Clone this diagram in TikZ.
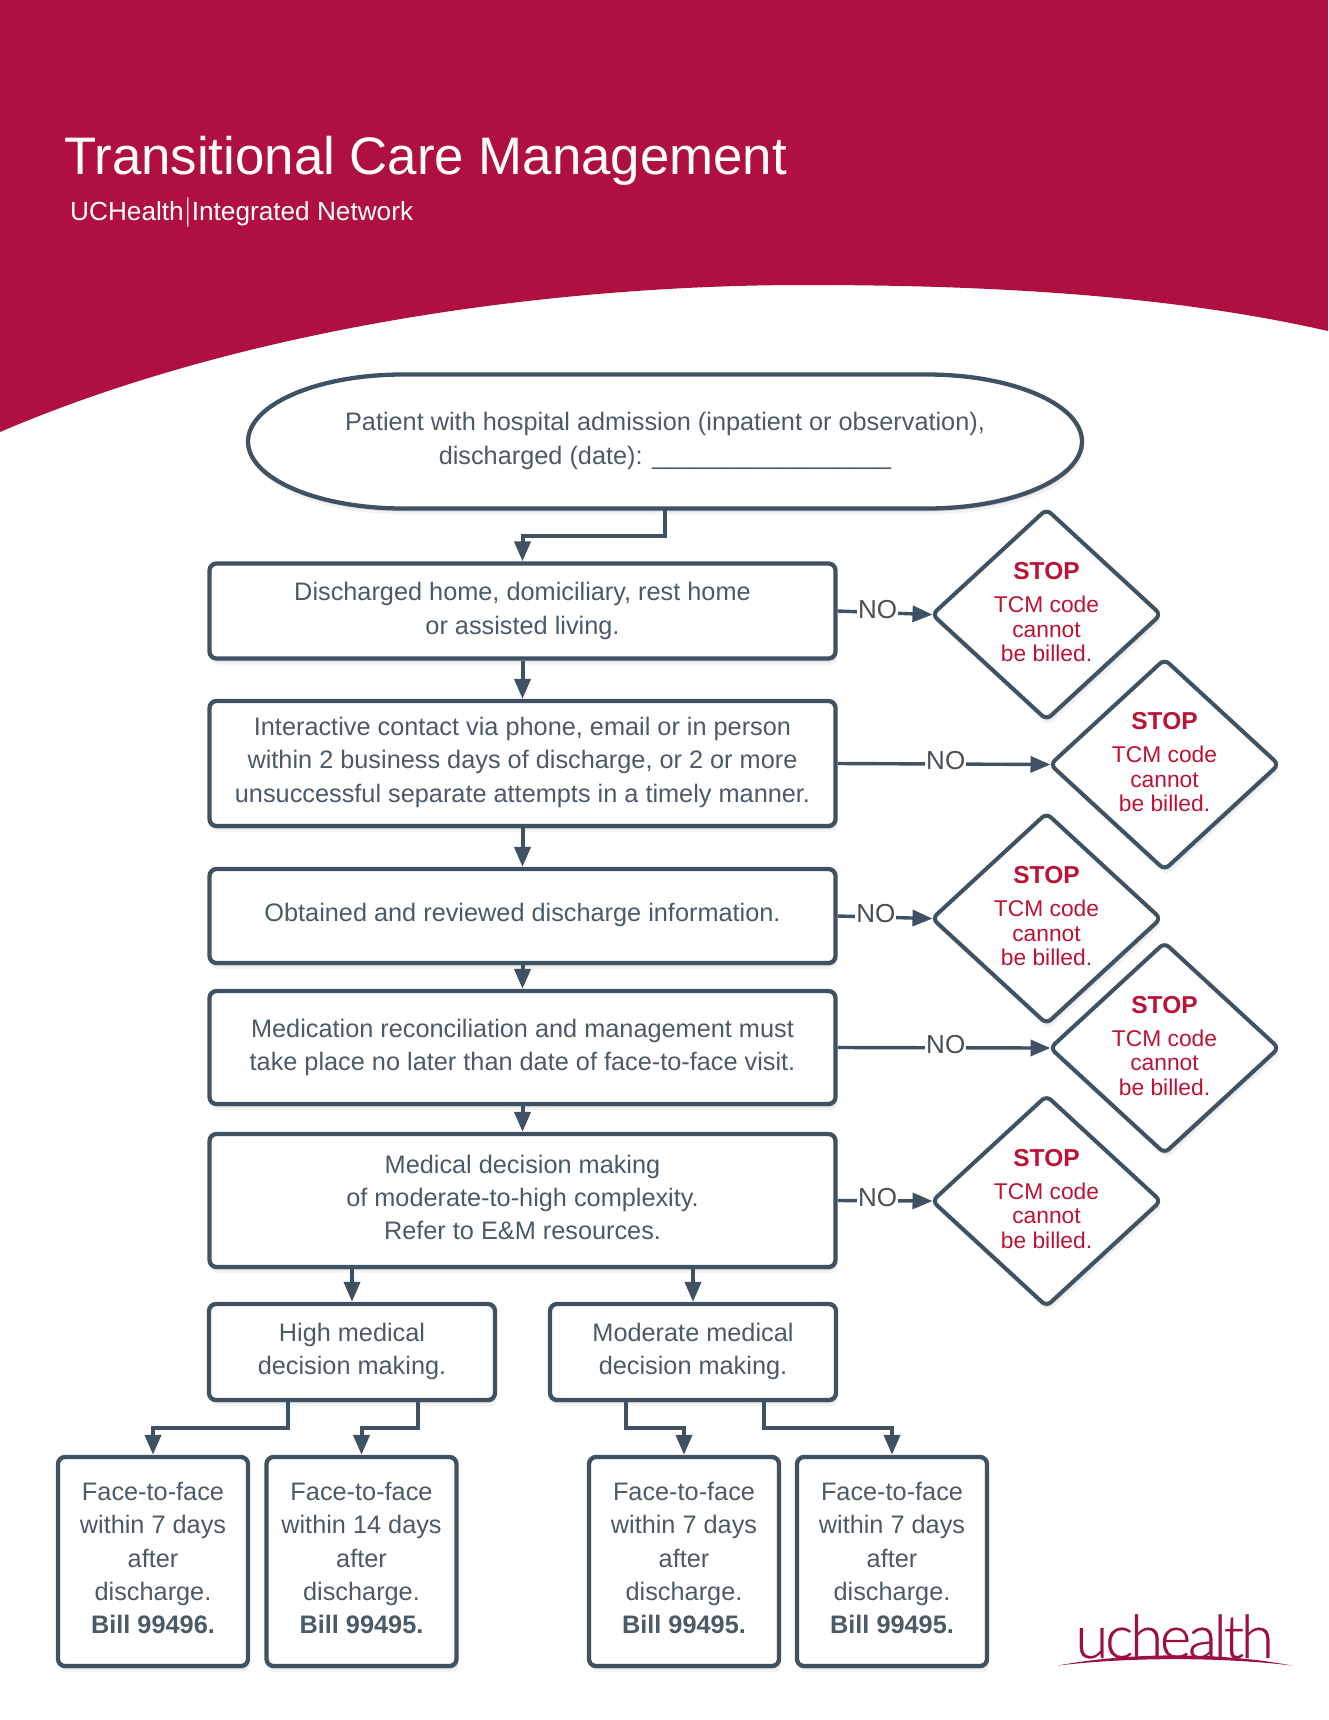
\documentclass[tikz,border=0pt]{standalone}
\usepackage{fontspec}
\usepackage{graphicx}
\setmainfont{Liberation Sans}
\newfontfamily\logofont[LetterSpace=-5.5,FakeBold=0.4]{Lato Light}
\usetikzlibrary{arrows.meta,shadows,shapes.geometric}
\definecolor{bandred}{HTML}{B01040}
\definecolor{logored}{HTML}{9B1040}
\definecolor{stopred}{HTML}{BC1236}
\definecolor{linegray}{HTML}{3F5263}
\definecolor{textgray}{HTML}{4B5A67}
\definecolor{nogray}{HTML}{4A4F54}
\tikzset{
	softshadow/.style={drop shadow={shadow xshift=1pt,shadow yshift=-3pt,opacity=.10,fill=black},drop shadow={shadow xshift=2pt,shadow yshift=-6pt,opacity=.05,fill=black}},
	flowbox/.style={draw=linegray,line width=4.3pt,fill=white,rounded corners=7pt,inner sep=0pt,align=center,text=textgray,font=\fontsize{25.3}{33.3}\selectfont,softshadow},
	stopdiamond/.style={diamond,aspect=1.09,draw=linegray,line width=4pt,fill=white,rounded corners=6pt,inner sep=0pt,minimum width=230pt,minimum height=212pt,text depth=4.4pt,align=center,text=stopred,font=\fontsize{22.8}{24.7}\selectfont,softshadow},
	nolabel/.style={fill=white,inner sep=1pt,yshift=3pt,text=nogray,font=\fontsize{26}{28}\selectfont},
	flowline/.style={draw=linegray,line width=4pt,-{Triangle[length=20pt,width=16pt]}},
	noline/.style={draw=linegray,line width=3.4pt,-{Triangle[length=20pt,width=16pt]},shorten >=-3pt},
}
\newcommand{\stoptext}{{\bfseries\fontsize{24.5}{24.7}\selectfont STOP}\\[8pt]TCM code\\cannot\\be billed.}

\begin{document}
\begin{tikzpicture}[x=1pt,y=-1pt]
	\useasboundingbox (0,0) rectangle (1328,1720);
	%%%%% HEADER %%%%%
	\fill[bandred] (0,0) -- (1328,0) -- (1328,331) .. controls (1170,295) and (990,285) .. (805,285) .. controls (560,285) and (250,325) .. (0,432) -- cycle;
	\node (title) [anchor=base west,inner sep=0pt,text=white,font=\fontsize{52.8}{60}\selectfont] at (64,175) {Transitional Care Management};
	\node (subtitle) [anchor=base west,inner sep=0pt,text=white,font=\fontsize{26.2}{30}\selectfont] at (70,221) {UCHealth\kern2pt\scalebox{.5}[1]{\fontsize{31}{31}\selectfont|}\kern2pt Integrated Network};
	
	%%%%% MAIN COLUMN %%%%%
	\draw[draw=linegray,line width=4.3pt,fill=white,softshadow] (403,374.5) -- (927,374.5) arc (-90:90:155 and 67) -- (403,508.5) arc (90:270:155 and 67) -- cycle;
	\node (admit) [minimum width=834pt,minimum height=136pt,inner sep=0pt,align=center,text=textgray,font=\fontsize{25.3}{33.3}\selectfont] at (665,441) {Patient with hospital admission (inpatient or observation),\\discharged (date): \_\_\_\_\_\_\_\_\_\_\_\_\_\_\_\_\_};
	
	\node (home) [flowbox,minimum width=626pt,minimum height=95pt] at (522.5,611) {Discharged home, domiciliary, rest home\\or assisted living.};
	\node (contact) [flowbox,minimum width=626pt,minimum height=125pt,text depth=7.4pt] at (522.5,763.5) {Interactive contact via phone, email or in person\\within 2 business days of discharge, or 2 or more\\unsuccessful separate attempts in a timely manner.};
	\node (review) [flowbox,minimum width=626pt,minimum height=94pt,text depth=7.2pt] at (522.5,916) {Obtained and reviewed discharge information.};
	\node (meds) [flowbox,minimum width=626pt,minimum height=113pt] at (522.5,1047.5) {Medication reconciliation and management must\\take place no later than date of face-to-face visit.};
	\node (mdm) [flowbox,minimum width=626pt,minimum height=133pt,text depth=6.6pt] at (522.5,1200.5) {Medical decision making\\of moderate-to-high complexity.\\Refer to E\&M resources.};
	
	%%%%% STOP DIAMONDS %%%%%
	\node (stopa) [stopdiamond] at (1046.5,614.5) {\stoptext};
	\node (stopb) [stopdiamond] at (1164.5,764.5) {\stoptext};
	\node (stopc) [stopdiamond] at (1046.5,918.5) {\stoptext};
	\node (stopd) [stopdiamond] at (1164.5,1048) {\stoptext};
	\node (stope) [stopdiamond] at (1046.5,1201) {\stoptext};
	
	%%%%% LOWER BOXES %%%%%
	\node (high) [flowbox,minimum width=286pt,minimum height=96pt,text depth=7pt] at (352,1352) {High medical\\decision making.};
	\node (moderate) [flowbox,minimum width=286pt,minimum height=96pt,text depth=7pt] at (693,1352) {Moderate medical\\decision making.};
	\node (facea) [flowbox,minimum width=190pt,minimum height=209pt,text depth=7pt] at (153,1561.5) {Face-to-face\\within 7 days\\after\\discharge.\\\textbf{Bill 99496.}};
	\node (faceb) [flowbox,minimum width=190pt,minimum height=209pt,text depth=7pt] at (361.5,1561.5) {Face-to-face\\within 14 days\\after\\discharge.\\\textbf{Bill 99495.}};
	\node (facec) [flowbox,minimum width=190pt,minimum height=209pt,text depth=7pt] at (684,1561.5) {Face-to-face\\within 7 days\\after\\discharge.\\\textbf{Bill 99495.}};
	\node (faced) [flowbox,minimum width=190pt,minimum height=209pt,text depth=7pt] at (892,1561.5) {Face-to-face\\within 7 days\\after\\discharge.\\\textbf{Bill 99495.}};
	
	%%%%% CONNECTORS %%%%%
	\coordinate (admitbend) at (522.5,536);
	\coordinate (mdmhigh) at (352,1267);
	\coordinate (mdmmod) at (693,1267);
	\coordinate (higha) at (288,1400);
	\coordinate (highb) at (418,1400);
	\coordinate (moda) at (626,1400);
	\coordinate (modb) at (764,1400);
	\coordinate (bendhigha) at (153,1428);
	\coordinate (bendhighb) at (361.5,1428);
	\coordinate (bendmoda) at (684,1428);
	\coordinate (bendmodb) at (892,1428);
	
	\draw[flowline] (admit.south) |- (admitbend) -- (home.north);
	\draw[flowline] (home.south) -- (contact.north);
	\draw[flowline] (contact.south) -- (review.north);
	\draw[flowline] (review.south) -- (meds.north);
	\draw[flowline] (meds.south) -- (mdm.north);
	\draw[flowline] (mdmhigh) -- (high.north);
	\draw[flowline] (mdmmod) -- (moderate.north);
	\draw[flowline] (higha) |- (bendhigha) -- (facea.north);
	\draw[flowline] (highb) |- (bendhighb) -- (faceb.north);
	\draw[flowline] (moda) |- (bendmoda) -- (facec.north);
	\draw[flowline] (modb) |- (bendmodb) -- (faced.north);
	
	\draw[noline] (home.east) -- node (noa) [nolabel,pos=.435] {NO} (stopa.west);
	\draw[noline] (contact.east) -- node (nob) [nolabel,pos=.515] {NO} (stopb.west);
	\draw[noline] (review.east) -- node (noc) [nolabel,pos=.415] {NO} (stopc.west);
	\draw[noline] (meds.east) -- node (nod) [nolabel,pos=.515] {NO} (stopd.west);
	\draw[noline] (mdm.east) -- node (noe) [nolabel,pos=.435] {NO} (stope.west);
	
	%%%%% LOGO %%%%%
	\node (logo) [anchor=base,inner sep=0pt,text=logored,font=\logofont\fontsize{60}{60}\selectfont] at (1174.5,1658) {uchealth};
	\fill[logored] (1058,1665.5) .. controls (1130,1652) and (1220,1652) .. (1292,1665.5) .. controls (1220,1657) and (1130,1657) .. cycle;
\end{tikzpicture}
\end{document}
